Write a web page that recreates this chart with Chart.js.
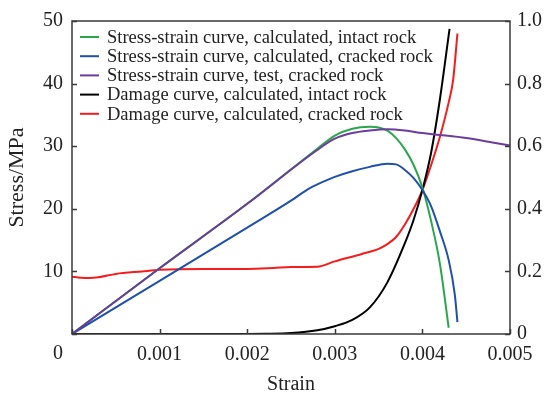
<!DOCTYPE html>
<html>
<head>
<meta charset="utf-8">
<script src="https://cdn.jsdelivr.net/npm/chart.js@4"></script>
<style>
  html, body { margin: 0; padding: 0; background: #fff; }
  #wrap { width: 544px; height: 397px; }
</style>
</head>
<body>
<div id="wrap"><canvas id="chart" width="544" height="397"></canvas></div>
<script>
// data
const seriesNames = [
    'Stress-strain curve, calculated, intact rock',
    'Stress-strain curve, calculated, cracked rock',
    'Stress-strain curve, test, cracked rock',
    'Damage curve, calculated, intact rock',
    'Damage curve, calculated, cracked rock'
];
const seriesColors = ['#2ca64c', '#1f50aa', '#6a3d9e', '#000000', '#f41c1c'];
const drawOrder = [3, 2, 1, 4, 5];   // lower = on top (purple above green)

const intactStrain = [0, 0.001, 0.002, 0.0028, 0.003, 0.0032, 0.0034, 0.0035, 0.0036, 0.0037, 0.0038, 0.0039, 0.004, 0.0041, 0.0042, 0.0043];
const intactStress = [0, 10.5, 20.8, 29.6, 31.7, 32.8, 33.1, 33.0, 32.5, 31.3, 29.5, 27.0, 23.4, 18.0, 11.2, 1.0];

const crackedStrain = [0, 0.001, 0.002, 0.0025, 0.0027, 0.0028, 0.003, 0.0032, 0.0034, 0.0036, 0.0037, 0.0038, 0.0039, 0.004, 0.0041, 0.0042, 0.0043, 0.00437, 0.0044];
const crackedStress = [0, 8.5, 17.0, 21.3, 23.2, 23.9, 25.1, 26.0, 26.7, 27.2, 27.1, 26.2, 24.9, 23.0, 20.4, 16.4, 11.8, 6.3, 1.9];

const testStrain = [0, 0.001, 0.002, 0.0028, 0.003, 0.0032, 0.0034, 0.0036, 0.0038, 0.004, 0.0042, 0.0045, 0.0048, 0.005];
const testStress = [0, 10.5, 20.8, 29.4, 31.2, 32.1, 32.5, 32.7, 32.5, 32.1, 31.8, 31.3, 30.6, 30.1];

const dmgIntactStrain = [0, 0.002, 0.0022, 0.0025, 0.0028, 0.003, 0.0032, 0.0034, 0.0036, 0.0038, 0.0039, 0.004, 0.0041, 0.0042, 0.00431];
const dmgIntact = [0, 0, 0.0005, 0.003, 0.012, 0.025, 0.045, 0.085, 0.165, 0.29, 0.365, 0.46, 0.58, 0.75, 0.975];

const dmgCrackedStrain = [0, 0.0001, 0.0002, 0.0003, 0.0005, 0.0008, 0.001, 0.0015, 0.002, 0.0023, 0.0025, 0.0028, 0.003, 0.0033, 0.0035, 0.0036, 0.0037, 0.0038, 0.0039, 0.004, 0.0041, 0.0042, 0.0043, 0.00435, 0.0044];
const dmgCracked = [0.183, 0.18, 0.179, 0.181, 0.192, 0.2, 0.205, 0.208, 0.208, 0.211, 0.214, 0.215, 0.232, 0.255, 0.272, 0.287, 0.31, 0.35, 0.40, 0.46, 0.54, 0.63, 0.74, 0.81, 0.96];

const xTicks = [0, 0.001, 0.002, 0.003, 0.004, 0.005];
const stressTicks = [0, 10, 20, 30, 40, 50];
const damageTicks = [0, 0.2, 0.4, 0.6, 0.8, 1.0];

const FONT = '"Liberation Serif", "Times New Roman", serif';
const AXIS = '#3a3a3a';

function pts(xs, ys) {
    return xs.map((x, i) => ({ x: x, y: ys[i] }));
}

function makeSet(i, xs, ys, axis) {
    return {
        label: seriesNames[i],
        data: pts(xs, ys),
        yAxisID: axis,
        order: drawOrder[i],
        borderColor: seriesColors[i],
        backgroundColor: seriesColors[i],
        borderWidth: 2,
        pointRadius: 0,
        fill: false,
        cubicInterpolationMode: 'monotone'
    };
}

// frame, inward ticks, corner "0" and the legend
const framePlugin = {
    id: 'frame',
    afterDatasetsDraw(chart) {
        const ctx = chart.ctx;
        const a = chart.chartArea;
        const sx = chart.scales.x, sy = chart.scales.y, sy2 = chart.scales.y2;
        ctx.save();
        ctx.strokeStyle = AXIS;
        ctx.lineWidth = 1.5;
        ctx.strokeRect(a.left, a.top, a.right - a.left, a.bottom - a.top);
        ctx.beginPath();
        xTicks.forEach(v => {
            const px = Math.round(sx.getPixelForValue(v)) + 0.5;
            ctx.moveTo(px, a.bottom); ctx.lineTo(px, a.bottom - 5);
        });
        stressTicks.forEach(v => {
            const py = Math.round(sy.getPixelForValue(v)) + 0.5;
            ctx.moveTo(a.left, py); ctx.lineTo(a.left + 5, py);
        });
        damageTicks.forEach(v => {
            const py = Math.round(sy2.getPixelForValue(v)) + 0.5;
            ctx.moveTo(a.right, py); ctx.lineTo(a.right - 5, py);
        });
        ctx.stroke();

        // shared origin label
        ctx.fillStyle = '#222';
        ctx.font = '20px ' + FONT;
        ctx.textAlign = 'right';
        ctx.textBaseline = 'middle';
        ctx.fillText('0', a.left - 9, a.bottom + 20);

        // legend (in dataset order, not draw order)
        ctx.font = '18.5px ' + FONT;
        ctx.textAlign = 'left';
        seriesNames.forEach((name, i) => {
            const y = a.top + 16 + i * 19.2;
            ctx.strokeStyle = seriesColors[i];
            ctx.lineWidth = 2;
            ctx.beginPath();
            ctx.moveTo(a.left + 8, y); ctx.lineTo(a.left + 27, y);
            ctx.stroke();
            ctx.fillStyle = '#222';
            ctx.fillText(name, a.left + 35, y + 1);
        });
        ctx.restore();
    }
};

const ctx = document.getElementById('chart').getContext('2d');
const chart = new Chart(ctx, {
    type: 'line',
    data: {
        datasets: [
            makeSet(0, intactStrain, intactStress, 'y'),
            makeSet(1, crackedStrain, crackedStress, 'y'),
            makeSet(2, testStrain, testStress, 'y'),
            makeSet(3, dmgIntactStrain, dmgIntact, 'y2'),
            makeSet(4, dmgCrackedStrain, dmgCracked, 'y2')
        ]
    },
    options: {
        responsive: false,
        animation: false,
        layout: { padding: { top: 16, right: 0, left: 0, bottom: 0 } },
        plugins: { legend: { display: false }, tooltip: { enabled: false } },
        scales: {
            x: {
                type: 'linear',
                min: 0, max: 0.005,
                afterBuildTicks: s => { s.ticks = xTicks.map(v => ({ value: v })); },
                afterFit: s => { s.height = 63; },
                grid: { display: false, drawTicks: false },
                border: { display: false },
                ticks: {
                    padding: 9,
                    maxRotation: 0,
                    color: '#222',
                    font: { family: FONT, size: 20 },
                    callback: v => v === 0 ? '' : String(v)
                },
                title: {
                    display: true, text: 'Strain', color: '#222',
                    font: { family: FONT, size: 20 },
                    padding: { top: 5, bottom: 0 }
                }
            },
            y: {
                position: 'left',
                min: 0, max: 50,
                afterBuildTicks: s => { s.ticks = stressTicks.map(v => ({ value: v })); },
                afterFit: s => { s.width = 72; },
                grid: { display: false, drawTicks: false },
                border: { display: false },
                ticks: {
                    padding: 9,
                    color: '#222',
                    font: { family: FONT, size: 20 },
                    callback: v => v === 0 ? '' : String(v)
                },
                title: {
                    display: true, text: 'Stress/MPa', color: '#222',
                    font: { family: FONT, size: 22 },
                    padding: { top: 4, bottom: 0 }
                }
            },
            y2: {
                position: 'right',
                min: 0, max: 1,
                afterBuildTicks: s => { s.ticks = damageTicks.map(v => ({ value: v })); },
                afterFit: s => { s.width = 34; },
                grid: { display: false, drawTicks: false },
                border: { display: false },
                ticks: {
                    padding: 7,
                    color: '#222',
                    font: { family: FONT, size: 20 },
                    callback: v => v === 0 ? '0' : (v === 1 ? '1.0' : String(v))
                }
            }
        }
    },
    plugins: [framePlugin]
});
</script>
</body>
</html>
